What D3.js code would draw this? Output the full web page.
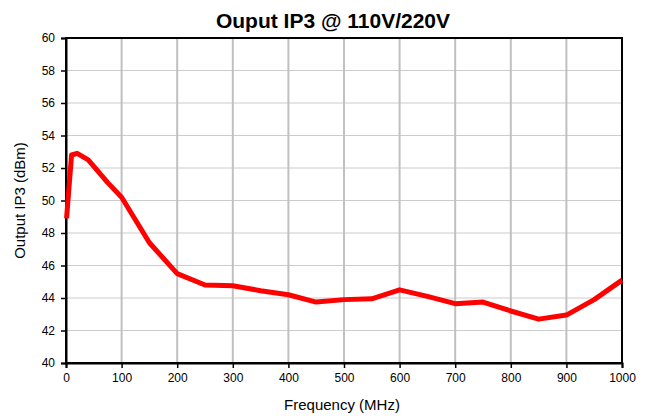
<!DOCTYPE html>
<html>
<head>
<meta charset="utf-8">
<script src="https://cdn.jsdelivr.net/npm/d3@7"></script>
<style>
body { margin: 0; background: #fff; }
text { font-family: "Liberation Sans", Arial, sans-serif; }
</style>
</head>
<body>
<div class="chart"></div>
<script>
// frequency (MHz) and output IP3 (dBm)
var freq = [1, 10, 20, 40, 75, 100, 150, 200, 250, 300, 350, 400, 450, 500, 550, 600, 650, 700, 750, 800, 850, 900, 950, 1000];
var ip3 = [48.9, 52.8, 52.9, 52.5, 51.1, 50.2, 47.4, 45.5, 44.8, 44.75, 44.45, 44.2, 43.75, 43.9, 43.95, 44.5, 44.1, 43.65, 43.75, 43.2, 42.7, 42.95, 43.9, 45.1];
var xTicks = [0, 100, 200, 300, 400, 500, 600, 700, 800, 900, 1000];
var yTicks = [40, 42, 44, 46, 48, 50, 52, 54, 56, 58, 60];

var width = 648,
	height = 416;
var margin = {top: 38, right: 26, bottom: 53, left: 66};
var w = width - margin.left - margin.right,
	h = height - margin.top - margin.bottom;

var svg = d3.select(".chart").append("svg")
	.attr("width", width)
	.attr("height", height);

var g = svg.append("g")
	.attr("transform", "translate(" + margin.left + "," + margin.top + ")");

var x = d3.scaleLinear().domain([0, 1000]).range([0, w]);
var y = d3.scaleLinear().domain([40, 60]).range([h, 0]);

// horizontal grid
g.selectAll(".hgrid")
	.data(yTicks)
	.enter().append("line")
	.attr("x1", 0).attr("x2", w)
	.attr("y1", function(d) { return y(d); })
	.attr("y2", function(d) { return y(d); })
	.style("stroke", "#cccccc")
	.style("stroke-width", 1);

// vertical grid
g.selectAll(".vgrid")
	.data(xTicks)
	.enter().append("line")
	.attr("y1", 0).attr("y2", h)
	.attr("x1", function(d) { return x(d); })
	.attr("x2", function(d) { return x(d); })
	.style("stroke", "#c0c0c0")
	.style("stroke-width", 2);

// plot frame
g.append("rect")
	.attr("width", w).attr("height", h)
	.style("fill", "none")
	.style("stroke", "#000")
	.style("stroke-width", 2);

var xAxis = g.append("g")
	.attr("transform", "translate(0," + h + ")")
	.call(d3.axisBottom(x).tickValues(xTicks).tickSize(5).tickPadding(5).tickFormat(d3.format("d")));
var yAxis = g.append("g")
	.call(d3.axisLeft(y).tickValues(yTicks).tickSize(5).tickPadding(6).tickFormat(d3.format("d")));

[xAxis, yAxis].forEach(function(a) {
	a.select(".domain").style("stroke", "#000").style("stroke-width", 2);
	a.selectAll(".tick line").style("stroke", "#000").style("stroke-width", 1.5);
	a.selectAll("text").style("font-size", "12px").style("fill", "#000")
		.style("font-family", "'Liberation Sans', Arial, sans-serif");
});

var line = d3.line()
	.x(function(d, i) { return x(freq[i]); })
	.y(function(d) { return y(d); });

g.append("path")
	.datum(ip3)
	.attr("d", line)
	.style("fill", "none")
	.style("stroke", "#ff0000")
	.style("stroke-width", 5)
	.style("stroke-linejoin", "round");

svg.append("text")
	.attr("x", 333)
	.attr("y", 28)
	.attr("text-anchor", "middle")
	.style("font-size", "21px")
	.style("font-weight", "bold")
	.text("Ouput IP3 @ 110V/220V");

svg.append("text")
	.attr("x", 342)
	.attr("y", 410)
	.attr("text-anchor", "middle")
	.style("font-size", "15px")
	.text("Frequency (MHz)");

svg.append("text")
	.attr("transform", "translate(25," + (margin.top + h / 2) + ") rotate(-90)")
	.attr("text-anchor", "middle")
	.style("font-size", "15px")
	.text("Output IP3 (dBm)");
</script>
</body>
</html>
